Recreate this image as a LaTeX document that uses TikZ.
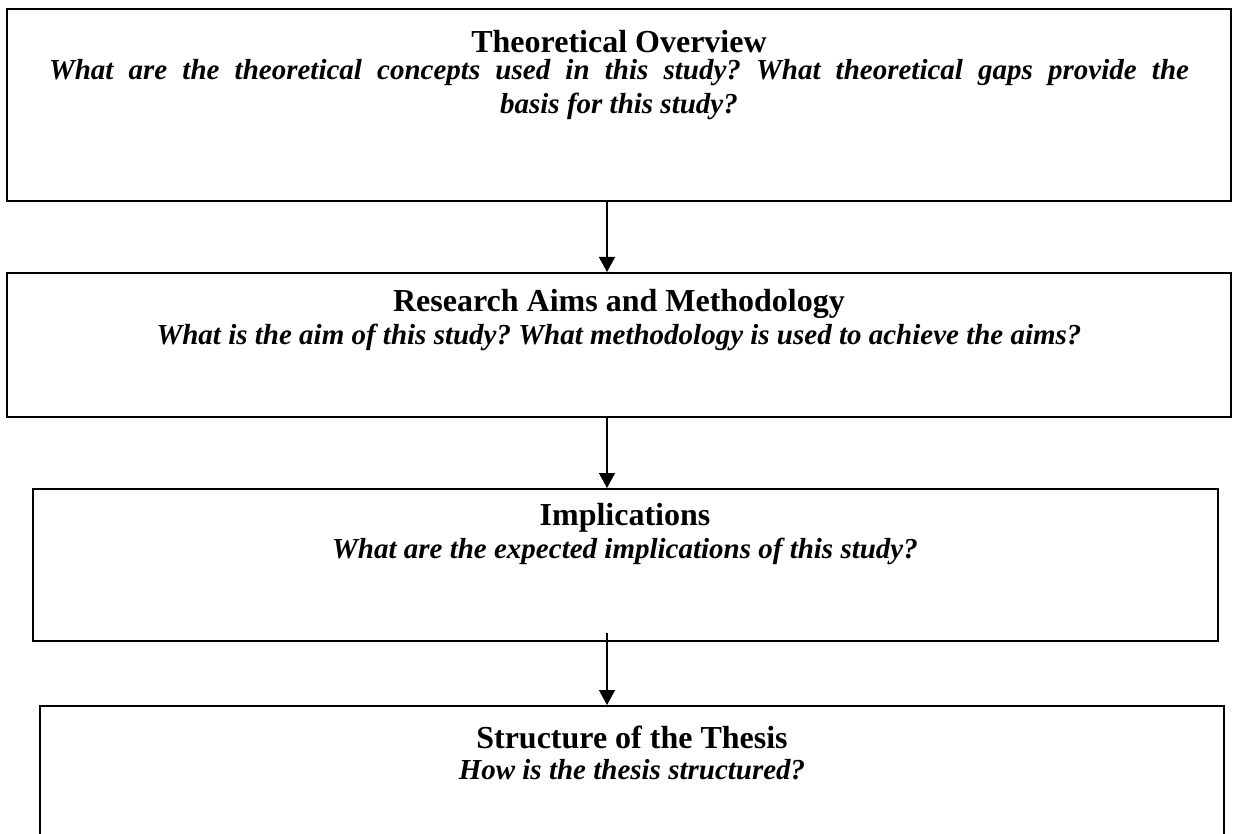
\documentclass[tikz,border=0pt]{standalone}
\usepackage{fontspec}
\setmainfont{Liberation Serif}
\usetikzlibrary{arrows.meta,positioning}
\tikzset{box/.style={draw=black,line width=2pt,inner sep=0pt},
 arr/.style={-{Triangle[length=15pt,width=16pt]},line width=1.4pt,draw=black},
 head/.style={align=center,inner sep=0pt,font=\fontsize{32}{36}\selectfont\bfseries},
 quest/.style={align=center,inner sep=0pt,font=\fontsize{29}{34}\selectfont\bfseries\itshape}}
\frenchspacing

\begin{document}
\begin{tikzpicture}[x=1pt,y=-1pt]
\useasboundingbox (0,0) rectangle (1236,834);
\clip (0,0) rectangle (1236,834);
\node[box,minimum width=1224pt,minimum height=192pt] (theory) at (619,105) {};
\node[box,minimum width=1224pt,minimum height=144pt] (aims) at (619,345) {};
\node[box,minimum width=1185pt,minimum height=152pt] (impl) at (625.5,565) {};
\node[box,minimum width=1184pt,minimum height=154pt] (thesis) at (632,783) {};
\node[head] (theoryT) at (619,42) {Theoretical Overview};
\node[quest] (theoryQ) at (619,90) {\makebox[1140pt][s]{What are the theoretical concepts used in this study? What theoretical gaps provide the}\\basis for this study?};
\node[head] (aimsT) at (619,304) {Research Aims and Methodology};
\node[quest] (aimsQ) at (619,337) {What is the aim of this study? What methodology is used to achieve the aims?};
\node[head] (implT) at (625,518) {Implications};
\node[quest] (implQ) at (625,551) {What are the expected implications of this study?};
\node[head] (thesisT) at (632,737) {Structure of the Thesis};
\node[quest] (thesisQ) at (632,770) {How is the thesis structured?};
% arrows sit a little left of the centre line
\coordinate (ax) at (607,0);
\coordinate (from3) at (607,633);
\draw[arr] (theory.south -| ax)--(aims.north -| ax);
\draw[arr] (aims.south -| ax)--(impl.north -| ax);
\draw[arr] (from3)--(thesis.north -| ax);
\end{tikzpicture}
\end{document}
